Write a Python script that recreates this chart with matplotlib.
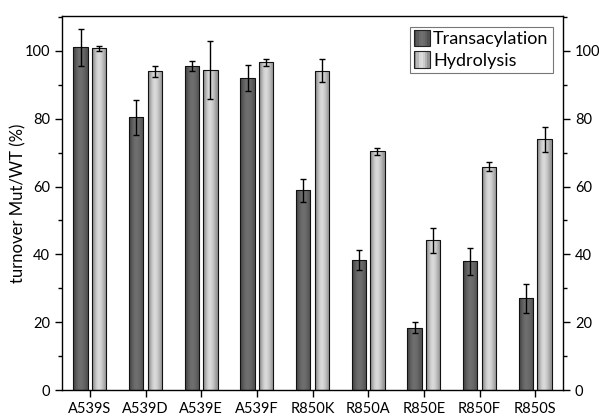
import numpy as np
import matplotlib
matplotlib.use("Agg")
import matplotlib.pyplot as plt
from matplotlib.patches import Rectangle
from matplotlib.legend_handler import HandlerBase
from matplotlib.ticker import MultipleLocator

plt.rcParams["font.family"] = ["Lato", "DejaVu Sans"]

# ── Data ──────────────────────────────────────────────────────────────────────
mutants = ["A539S", "A539D", "A539E", "A539F", "R850K", "R850A", "R850E", "R850F", "R850S"]
transacylation     = [101.1, 80.4, 95.6, 92.0, 58.9, 38.3, 18.4, 37.9, 27.0]
transacylation_err = [5.5, 5.2, 1.4, 3.9, 3.4, 2.9, 1.7, 3.9, 4.3]
hydrolysis         = [100.8, 94.0, 94.3, 96.6, 94.1, 70.4, 44.2, 65.8, 73.9]
hydrolysis_err     = [0.8, 1.6, 8.5, 1.0, 3.4, 1.1, 3.7, 1.3, 3.7]
series_names = ["Transacylation", "Hydrolysis"]

# gradient profiles (grey levels across the bar, left → right)
dark_profile  = [0.28, 0.36, 0.42, 0.44, 0.42, 0.38, 0.32]
light_profile = [0.55, 0.72, 0.84, 0.86, 0.80, 0.70, 0.58]

width = 0.26
offset = 0.167
x = np.arange(len(mutants))

fig = plt.figure(figsize=(5.99, 4.16), dpi=100)
ax = fig.add_axes([0.1035, 0.0625, 0.8365, 0.899])


def gradient_bars(ax, xs, vals, errs, profile):
    bars = ax.bar(xs, vals, width, facecolor="none", edgecolor="#111111",
                  linewidth=0.8, zorder=3)
    grad = np.array(profile)[None, :]
    for b in bars:
        x0, y0 = b.get_x(), b.get_y()
        im = ax.imshow(grad, cmap="gray", vmin=0, vmax=1, aspect="auto",
                       interpolation="bicubic",
                       extent=[x0, x0 + b.get_width(), y0, y0 + b.get_height()],
                       zorder=2)
        im.set_clip_path(b)
    ax.errorbar(xs, vals, yerr=errs, fmt="none", ecolor="black",
                elinewidth=1.0, capsize=2.5, capthick=1.0, zorder=4)
    return bars


gradient_bars(ax, x - offset, transacylation, transacylation_err, dark_profile)
gradient_bars(ax, x + offset, hydrolysis, hydrolysis_err, light_profile)


# ── Legend with striped handles ───────────────────────────────────────────────
class GradientHandler(HandlerBase):
    def __init__(self, profile):
        super().__init__()
        self.profile = profile

    def create_artists(self, legend, orig_handle, xdescent, ydescent,
                       width, height, fontsize, trans):
        n = len(self.profile)
        w = width
        y0, h = -ydescent - 1.5, height + 3
        arts = []
        for i, g in enumerate(self.profile):
            arts.append(Rectangle((-xdescent + i * w / n, y0), w / n + 0.2, h,
                                  facecolor=str(g), edgecolor="none",
                                  transform=trans))
        arts.append(Rectangle((-xdescent, y0), w, h, facecolor="none",
                              edgecolor="#222222", lw=0.8, transform=trans))
        return arts


h1 = Rectangle((0, 0), 1, 1)
h2 = Rectangle((0, 0), 1, 1)
leg = ax.legend([h1, h2], series_names, loc="upper right",
                bbox_to_anchor=(0.98, 0.971),
                handler_map={h1: GradientHandler(dark_profile),
                             h2: GradientHandler(light_profile)},
                fontsize=13, frameon=True, fancybox=False, borderpad=0.25,
                handlelength=0.85, handletextpad=0.2, labelspacing=0.3,
                borderaxespad=0.0)
leg.get_frame().set_edgecolor("#555555")
leg.get_frame().set_linewidth(0.8)

# ── Axes styling ──────────────────────────────────────────────────────────────
ax.set_xlim(-0.5, 8.5)
ax.set_ylim(0, 110.3)
ax.set_xticks(x)
ax.set_xticklabels(mutants, fontsize=10.5)
ax.yaxis.set_major_locator(MultipleLocator(20))
ax.yaxis.set_minor_locator(MultipleLocator(10))
ax.tick_params(axis="y", which="both", direction="out", left=True, right=True,
               labelleft=True, labelright=True, labelsize=10.5)
ax.tick_params(axis="y", which="major", length=5, width=1)
ax.tick_params(axis="y", which="minor", length=3, width=1)
ax.tick_params(axis="x", direction="out", length=5, width=1, top=False)
ax.set_ylabel("turnover Mut/WT (%)", fontsize=12)
ax.yaxis.set_label_coords(-0.07, 0.5)
for s in ax.spines.values():
    s.set_linewidth(1.0)

fig.savefig("out.png", dpi=100)
